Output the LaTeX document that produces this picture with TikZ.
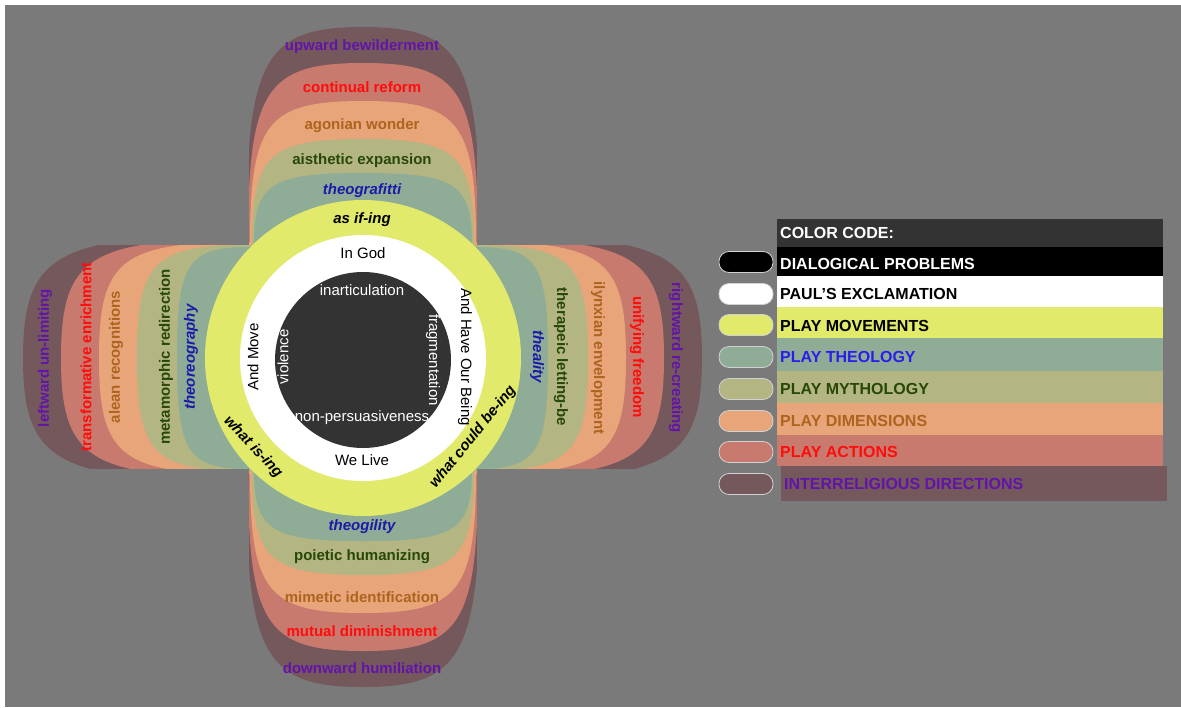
\documentclass[tikz,border=0pt]{standalone}
\usepackage{fontspec}
\setmainfont{Liberation Sans}
\definecolor{bggray}{RGB}{122,122,122}
\definecolor{darkcore}{RGB}{51,51,51}
\definecolor{movyellow}{RGB}{225,234,107}
\definecolor{theoteal}{RGB}{143,172,150}
\definecolor{mythOlive}{RGB}{179,181,130}
\definecolor{dimpeach}{RGB}{232,165,122}
\definecolor{actsalmon}{RGB}{200,122,110}
\definecolor{dirmauve}{RGB}{117,88,92}
\definecolor{dirpurple}{RGB}{98,20,170}
\definecolor{actred}{RGB}{255,12,12}
\definecolor{dimbrown}{RGB}{172,100,30}
\definecolor{mythgreen}{RGB}{40,72,8}
\definecolor{theoblue}{RGB}{26,26,168}
\definecolor{legblue}{RGB}{42,30,235}
\def\ctrx{363}
\def\ctry{358}
% vertical lobe pair (up + down), half width and length
\def\vlobe[#1](#2:#3){\fill[#1] (\ctrx-#2,\ctry) -- (\ctrx-#2,\ctry-113)
  .. controls (\ctrx-#2,\ctry-113-0.85*#3) and (\ctrx-0.85*#2,\ctry-113-#3) .. (\ctrx,\ctry-113-#3)
  .. controls (\ctrx+0.85*#2,\ctry-113-#3) and (\ctrx+#2,\ctry-113-0.85*#3) .. (\ctrx+#2,\ctry-113)
  -- (\ctrx+#2,\ctry+111)
  .. controls (\ctrx+#2,\ctry+111+0.85*#3) and (\ctrx+0.85*#2,\ctry+111+#3) .. (\ctrx,\ctry+111+#3)
  .. controls (\ctrx-0.85*#2,\ctry+111+#3) and (\ctrx-#2,\ctry+111+0.85*#3) .. (\ctrx-#2,\ctry+111) -- cycle;}
% horizontal lobe pair (left + right)
\def\hlobe[#1](#2:#3){\fill[#1] (\ctrx,\ctry-#2) -- (\ctrx-114,\ctry-#2)
  .. controls (\ctrx-114-0.85*#3,\ctry-#2) and (\ctrx-114-#3,\ctry-0.85*#2) .. (\ctrx-114-#3,\ctry)
  .. controls (\ctrx-114-#3,\ctry+0.85*#2) and (\ctrx-114-0.85*#3,\ctry+#2) .. (\ctrx-114,\ctry+#2)
  -- (\ctrx+113,\ctry+#2)
  .. controls (\ctrx+113+0.85*#3,\ctry+#2) and (\ctrx+113+#3,\ctry+0.85*#2) .. (\ctrx+113+#3,\ctry)
  .. controls (\ctrx+113+#3,\ctry-0.85*#2) and (\ctrx+113+0.85*#3,\ctry-#2) .. (\ctrx+113,\ctry-#2) -- cycle;}
\tikzset{
  lobelabel/.style={font=\fontsize{15}{18}\selectfont\bfseries, inner sep=1pt},
  slantlabel/.style={font=\fontsize{15}{18}\selectfont\bfseries\itshape, inner sep=1pt},
  corelabel/.style={font=\fontsize{15}{18}\selectfont, inner sep=1pt},
  legendtext/.style={font=\fontsize{16}{19}\selectfont\bfseries, anchor=west, inner sep=0pt},
  pill/.style={draw=black!18, line width=0.8pt, rounded corners=10pt, minimum width=54pt, minimum height=21pt, inner sep=0pt}
}
\begin{document}
\begin{tikzpicture}[x=1pt, y=-1pt]
			%%%%% START %%%%%
			\useasboundingbox (0,0) rectangle (1181,707);
			\fill[white] (0,0) rectangle (1181,707);
			\fill[bggray] (5,5) rectangle (1181,707);
			
			% lobes, outer layer first
			\foreach \lcol/\lw/\lh/\sw/\sh in {dirmauve/117/218/123/226, actsalmon/115/182/119/188,
			  dimpeach/113/144/116/150, mythOlive/111/106/113/112, theoteal/109/72/111/72}{
			  \vlobe[fill=\lcol](\lw:\lh)
			  \hlobe[fill=\lcol](\sw:\sh)
			}
			
			% gray corners
			\fill[bggray] (5,5) rectangle (249,245);
			\fill[bggray] (477,5) rectangle (712,245);
			\fill[bggray] (5,469) rectangle (249,707);
			\fill[bggray] (477,469) rectangle (712,707);
			
			\fill[movyellow] (\ctrx,\ctry) circle (158);
			\fill[white] (\ctrx,\ctry) circle (123);
			\fill[darkcore] (\ctrx,\ctry+2) circle (88);
			
			% up
			\node[lobelabel, text=dirpurple] (upDir) at (362,47) {upward bewilderment};
			\node[lobelabel, text=actred] (upAct) at (362,87) {continual reform};
			\node[lobelabel, text=dimbrown] (upDim) at (362,126) {agonian wonder};
			\node[lobelabel, text=mythgreen] (upMyth) at (362,161) {aisthetic expansion};
			\node[slantlabel, text=theoblue] (upTheo) at (362,191) {theografitti};
			\node[slantlabel] (upMove) at (362,220) {as if-ing};
			
			% down
			\node[slantlabel, text=theoblue] (downTheo) at (362,527) {theogility};
			\node[lobelabel, text=mythgreen] (downMyth) at (362,557) {poietic humanizing};
			\node[lobelabel, text=dimbrown] (downDim) at (362,597) {mimetic identification};
			\node[lobelabel, text=actred] (downAct) at (362,631) {mutual diminishment};
			\node[lobelabel, text=dirpurple] (downDir) at (362,668) {downward humiliation};
			
			% left
			\node[lobelabel, text=dirpurple, rotate=90] (leftDir) at (45,358) {leftward un-limiting};
			\node[lobelabel, text=actred, rotate=90] (leftAct) at (86,357) {transformative enrichment};
			\node[lobelabel, text=dimbrown, rotate=90] (leftDim) at (116,357) {alean recognitions};
			\node[lobelabel, text=mythgreen, rotate=90] (leftMyth) at (166,357) {metamorphic redirection};
			\node[slantlabel, text=theoblue, rotate=90] (leftTheo) at (191,357) {theoreography};
			
			% right
			\node[slantlabel, text=theoblue, rotate=-90] (rightTheo) at (537,357) {theality};
			\node[lobelabel, text=mythgreen, rotate=-90] (rightMyth) at (561,357) {therapeic letting-be};
			\node[lobelabel, text=dimbrown, rotate=-90] (rightDim) at (598,358) {ilynxian envelopment};
			\node[lobelabel, text=actred, rotate=-90] (rightAct) at (637,357) {unifying freedom};
			\node[lobelabel, text=dirpurple, rotate=-90] (rightDir) at (676,358) {rightward re-creating};
			
			% movements on the ring
			\node[slantlabel, rotate=-47] (isIng) at (253,447) {what is-ing};
			\node[slantlabel, rotate=51] (couldIng) at (473,437) {what could be-ing};
			
			% Paul's exclamation
			\node[corelabel] (inGod) at (363,253) {In God};
			\node[corelabel] (weLive) at (362,460) {We Live};
			\node[corelabel, rotate=90] (andMove) at (253,357) {And Move};
			\node[corelabel, rotate=-90] (ourBeing) at (465,357) {And Have Our Being};
			
			% problems
			\node[corelabel, text=white] (inartic) at (362,290) {inarticulation};
			\node[corelabel, text=white] (nonPers) at (362,418) {non-persuasiveness};
			\node[corelabel, text=white, rotate=90] (violence) at (283,357) {violence};
			\node[corelabel, text=white, rotate=-90] (fragment) at (433,360) {fragmentation};
			
			% color code
			\fill[darkcore] (777,219) rectangle (1163,247);
			\node[legendtext, text=white] (codeHead) at (780,233) {COLOR CODE:};
			\fill[black] (777,247) rectangle (1163,276);
			\fill[white] (777,276) rectangle (1163,307);
			\fill[movyellow] (777,307) rectangle (1163,338);
			\fill[theoteal] (777,338) rectangle (1163,371);
			\fill[mythOlive] (777,371) rectangle (1163,403);
			\fill[dimpeach] (777,403) rectangle (1163,435);
			\fill[actsalmon] (777,435) rectangle (1163,466);
			\fill[dirmauve] (781,466) rectangle (1167,501);
			
			\node[pill, fill=black] (pillProb) at (746,262) {};
			\node[pill, fill=white] (pillPaul) at (746,294) {};
			\node[pill, fill=movyellow] (pillMove) at (746,325) {};
			\node[pill, fill=theoteal] (pillTheo) at (746,357) {};
			\node[pill, fill=mythOlive] (pillMyth) at (746,389) {};
			\node[pill, fill=dimpeach] (pillDim) at (746,421) {};
			\node[pill, fill=actsalmon] (pillAct) at (746,452) {};
			\node[pill, fill=dirmauve] (pillDir) at (746,484) {};
			
			\node[legendtext, text=white] (keyProb) at (780,264) {DIALOGICAL PROBLEMS};
			\node[legendtext] (keyPaul) at (780,294) {PAUL’S EXCLAMATION};
			\node[legendtext] (keyMove) at (780,326) {PLAY MOVEMENTS};
			\node[legendtext, text=legblue] (keyTheo) at (780,357) {PLAY THEOLOGY};
			\node[legendtext, text=mythgreen] (keyMyth) at (780,389) {PLAY MYTHOLOGY};
			\node[legendtext, text=dimbrown] (keyDim) at (780,421) {PLAY DIMENSIONS};
			\node[legendtext, text=actred] (keyAct) at (780,452) {PLAY ACTIONS};
			\node[legendtext, text=dirpurple] (keyDir) at (784,484) {INTERRELIGIOUS DIRECTIONS};
			%%%%% END %%%%%
\end{tikzpicture}
\end{document}
